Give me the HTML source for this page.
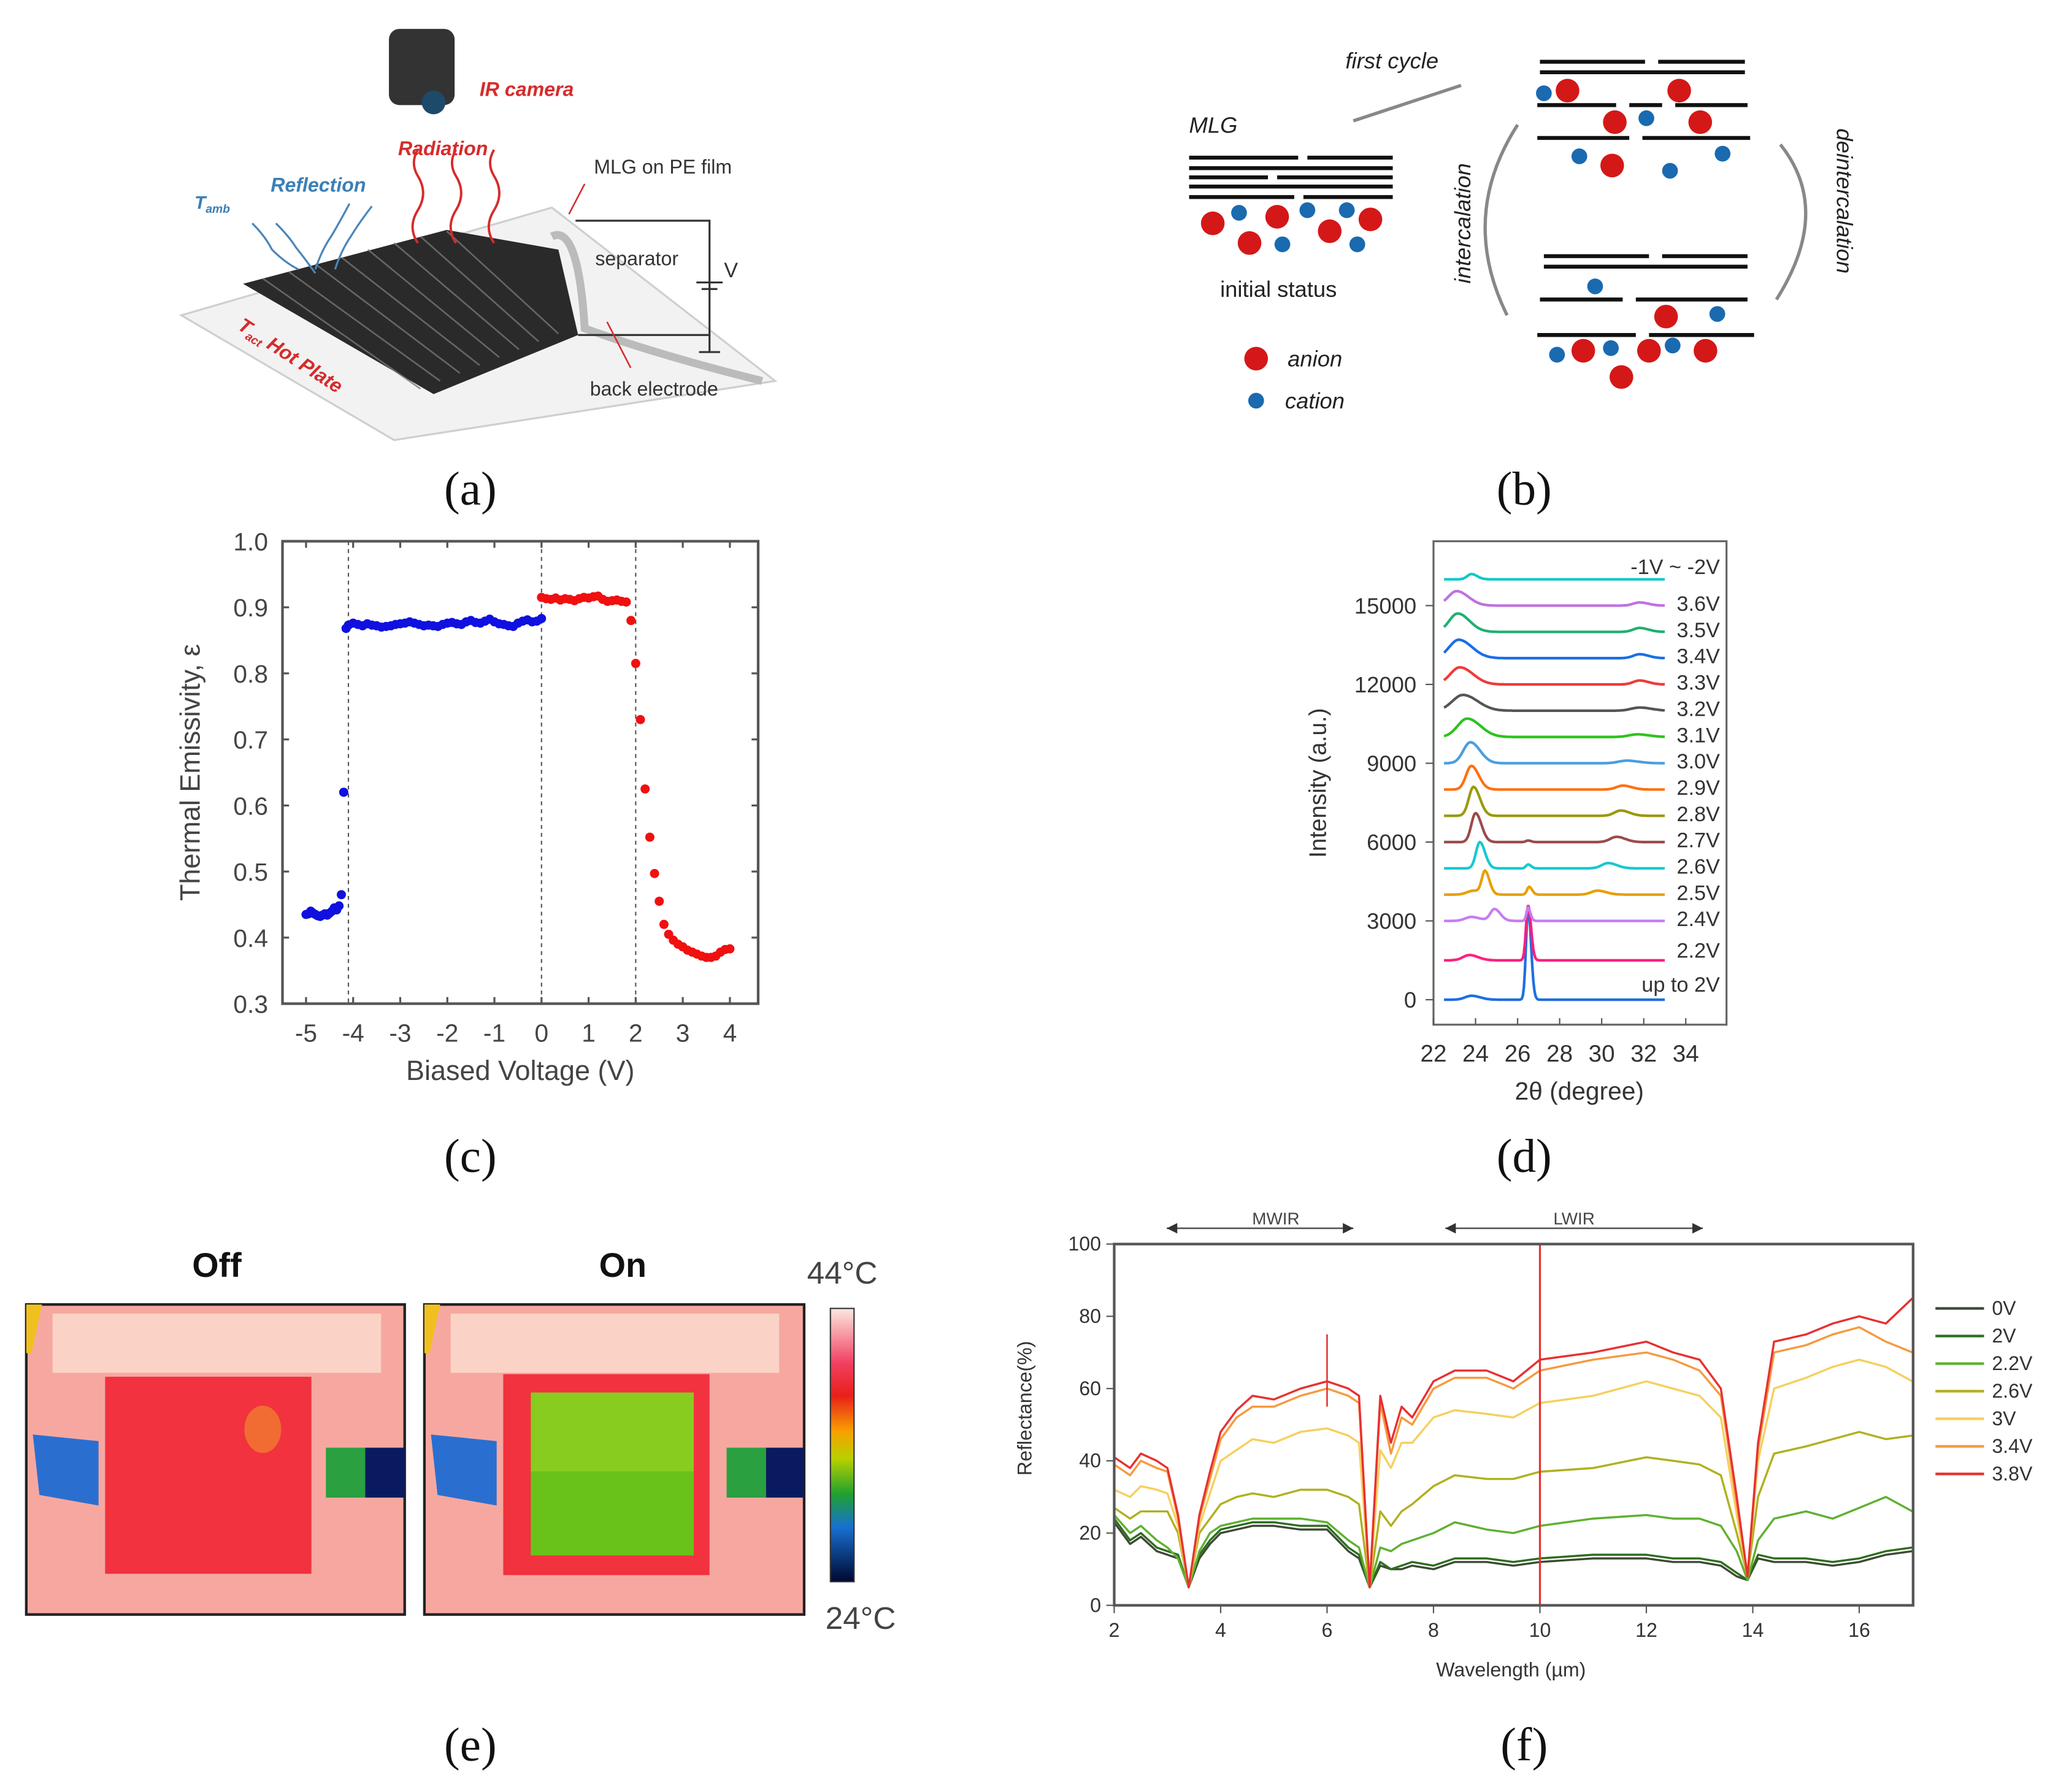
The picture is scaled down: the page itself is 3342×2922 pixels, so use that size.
<!DOCTYPE html>
<html><head><meta charset="utf-8">
<style>
html,body{margin:0;padding:0;background:#fff;}
svg{display:block;}
text{font-family:"Liberation Sans",sans-serif;}
.cap{font-family:"Liberation Serif",serif;font-size:36px;fill:#111;}
</style></head>
<body>
<svg id="fig" width="3342" height="2922" viewBox="0 0 1560.2 1364.1" preserveAspectRatio="none" xmlns="http://www.w3.org/2000/svg">
<rect width="1560.2" height="1364.1" fill="#fff"/>

<!-- ===== Panel (a) ===== -->
<g>
  <polygon points="138,240 420,158 590,290 300,335" fill="#f2f2f2" stroke="#cfcfcf" stroke-width="1.5"/>
  <polygon points="185,216 340,175 425,190 440,255 330,300" fill="#2a2a2a"/>
  <g stroke="#777" stroke-width="1.2" opacity="0.8">
    <line x1="200" y1="212" x2="320" y2="296"/><line x1="220" y1="207" x2="335" y2="290"/>
    <line x1="240" y1="201" x2="350" y2="284"/><line x1="260" y1="196" x2="365" y2="278"/>
    <line x1="280" y1="190" x2="380" y2="272"/><line x1="300" y1="185" x2="395" y2="266"/>
    <line x1="320" y1="180" x2="410" y2="260"/><line x1="340" y1="176" x2="425" y2="254"/>
  </g>
  <path d="M420,180 Q440,170 445,250 Q500,270 580,290" fill="none" stroke="#bbb" stroke-width="6"/>
  <rect x="296" y="22" width="50" height="58" rx="8" fill="#333"/>
  <circle cx="330" cy="78" r="9" fill="#1d4a6a"/>
  <text x="365" y="73" font-size="15" font-weight="bold" font-style="italic" fill="#d62b2b">IR camera</text>
  <text x="303" y="118" font-size="15" font-weight="bold" font-style="italic" fill="#d62b2b">Radiation</text>
  <text x="206" y="146" font-size="15" font-weight="bold" font-style="italic" fill="#3b7fb6">Reflection</text>
  <text x="148" y="159" font-size="14" font-weight="bold" font-style="italic" fill="#3b7fb6">T<tspan font-size="9" dy="3">amb</tspan></text>
  <text x="452" y="132" font-size="15" fill="#333">MLG on PE film</text>
  <text x="453" y="202" font-size="15" fill="#333">separator</text>
  <text x="551" y="211" font-size="16" fill="#333">V</text>
  <text x="449" y="301" font-size="15" fill="#333">back electrode</text>
  <text x="180" y="250" font-size="15" font-weight="bold" font-style="italic" fill="#d62b2b" transform="rotate(33 180 250)">T<tspan font-size="9" dy="3">act</tspan><tspan dy="-3"> Hot Plate</tspan></text>
  <g fill="none" stroke="#d62b2b" stroke-width="1.8">
    <path d="M318,185 q-8,-12 0,-25 q8,-13 0,-26 q-6,-10 0,-20"/>
    <path d="M347,185 q-8,-12 0,-25 q8,-13 0,-26 q-6,-10 0,-20"/>
    <path d="M376,185 q-8,-12 0,-25 q8,-13 0,-26 q-6,-10 0,-20"/>
  </g>
  <g fill="none" stroke="#4a86b8" stroke-width="1.5">
    <path d="M192,170 q10,10 15,20 q10,10 20,15"/>
    <path d="M210,170 q10,10 15,18 q8,10 15,20"/>
    <path d="M240,205 q5,-15 12,-25 q6,-10 14,-25"/>
    <path d="M255,205 q5,-15 12,-25 q6,-10 16,-23"/>
  </g>
  <g fill="none" stroke="#333" stroke-width="1.5">
    <polyline points="438,168 540,168 540,255 440,255"/>
    <line x1="530" y1="215" x2="550" y2="215"/><line x1="534" y1="220" x2="546" y2="220"/>
    <line x1="540" y1="255" x2="540" y2="268"/><line x1="532" y1="268" x2="548" y2="268"/>
  </g>
  <line x1="445" y1="140" x2="433" y2="163" stroke="#d62b2b" stroke-width="1.2"/>
  <line x1="480" y1="280" x2="462" y2="245" stroke="#d62b2b" stroke-width="1.2"/>
</g>
<text class="cap" x="358" y="384" text-anchor="middle">(a)</text>

<!-- ===== Panel (b) ===== -->
<g stroke="#111" stroke-width="3">
  <line x1="905" y1="120" x2="988" y2="120"/><line x1="995" y1="120" x2="1060" y2="120"/>
  <line x1="905" y1="128" x2="1060" y2="128"/>
  <line x1="905" y1="135" x2="965" y2="135"/><line x1="972" y1="135" x2="1060" y2="135"/>
  <line x1="905" y1="142" x2="1060" y2="142"/>
  <line x1="905" y1="150" x2="985" y2="150"/><line x1="992" y1="150" x2="1060" y2="150"/>
  <line x1="1172" y1="47" x2="1252" y2="47"/><line x1="1262" y1="47" x2="1328" y2="47"/>
  <line x1="1172" y1="55" x2="1328" y2="55"/>
  <line x1="1170" y1="80" x2="1230" y2="80"/><line x1="1240" y1="80" x2="1265" y2="80"/><line x1="1275" y1="80" x2="1330" y2="80"/>
  <line x1="1170" y1="105" x2="1240" y2="105"/><line x1="1250" y1="105" x2="1332" y2="105"/>
  <line x1="1175" y1="195" x2="1255" y2="195"/><line x1="1265" y1="195" x2="1330" y2="195"/>
  <line x1="1175" y1="203" x2="1330" y2="203"/>
  <line x1="1172" y1="228" x2="1235" y2="228"/><line x1="1245" y1="228" x2="1330" y2="228"/>
  <line x1="1170" y1="255" x2="1245" y2="255"/><line x1="1255" y1="255" x2="1335" y2="255"/>
</g>
<g>
  <g fill="#d41818">
    <circle cx="923" cy="170" r="9"/><circle cx="951" cy="185" r="9"/><circle cx="972" cy="165" r="9"/><circle cx="1012" cy="176" r="9"/><circle cx="1043" cy="167" r="9"/>
    <circle cx="1193" cy="69" r="9"/><circle cx="1278" cy="69" r="9"/><circle cx="1229" cy="93" r="9"/><circle cx="1294" cy="93" r="9"/><circle cx="1227" cy="126" r="9"/>
    <circle cx="1268" cy="241" r="9"/><circle cx="1205" cy="267" r="9"/><circle cx="1255" cy="267" r="9"/><circle cx="1298" cy="267" r="9"/><circle cx="1234" cy="287" r="9"/>
    <circle cx="956" cy="273" r="9"/>
  </g>
  <g fill="#1a6ab0">
    <circle cx="943" cy="162" r="6"/><circle cx="995" cy="160" r="6"/><circle cx="1025" cy="160" r="6"/><circle cx="976" cy="186" r="6"/><circle cx="1033" cy="186" r="6"/>
    <circle cx="1175" cy="71" r="6"/><circle cx="1253" cy="90" r="6"/><circle cx="1202" cy="119" r="6"/><circle cx="1271" cy="130" r="6"/><circle cx="1311" cy="117" r="6"/>
    <circle cx="1214" cy="218" r="6"/><circle cx="1307" cy="239" r="6"/><circle cx="1185" cy="270" r="6"/><circle cx="1226" cy="265" r="6"/><circle cx="1273" cy="263" r="6"/>
    <circle cx="956" cy="305" r="6"/>
  </g>
</g>
<g fill="none" stroke="#888" stroke-width="2.5">
  <line x1="1030" y1="92" x2="1112" y2="65"/>
  <path d="M1147,240 Q1110,165 1155,95"/>
  <path d="M1355,110 Q1395,160 1352,228"/>
</g>
<text x="1024" y="52" font-size="17" font-style="italic" fill="#222">first cycle</text>
<text x="905" y="101" font-size="17" font-style="italic" fill="#222">MLG</text>
<text x="973" y="226" font-size="17" text-anchor="middle" fill="#222">initial status</text>
<text x="980" y="279" font-size="17" font-style="italic" fill="#222">anion</text>
<text x="978" y="311" font-size="17" font-style="italic" fill="#222">cation</text>
<text x="1119" y="170" font-size="17" font-style="italic" fill="#222" text-anchor="middle" transform="rotate(-90 1119 170)">intercalation</text>
<text x="1398" y="153" font-size="17" font-style="italic" fill="#222" text-anchor="middle" transform="rotate(90 1398 153)">deintercalation</text>
<text class="cap" x="1160" y="384" text-anchor="middle">(b)</text>

<!-- ===== Panel (c) ===== -->
<g id="chartC"></g>
<text class="cap" x="358" y="892" text-anchor="middle">(c)</text>

<!-- ===== Panel (d) ===== -->
<g id="chartD"></g>
<text class="cap" x="1160" y="892" text-anchor="middle">(d)</text>

<!-- ===== Panel (e) ===== -->
<g>
  <text x="165" y="972" font-size="26" font-weight="bold" text-anchor="middle" fill="#111">Off</text>
  <text x="474" y="972" font-size="26" font-weight="bold" text-anchor="middle" fill="#111">On</text>
  <text x="641" y="977" font-size="24" text-anchor="middle" fill="#444">44°C</text>
  <text x="655" y="1240" font-size="24" text-anchor="middle" fill="#444">24°C</text>
  <g>
    <rect x="20" y="993" width="288" height="236" fill="#f6a8a0" stroke="#222" stroke-width="2"/>
    <rect x="40" y="1000" width="250" height="45" fill="#fbd3c6"/>
    <rect x="80" y="1048" width="157" height="150" fill="#f2323e"/>
    <ellipse cx="200" cy="1088" rx="14" ry="18" fill="#f07a30" opacity="0.8"/>
    <polygon points="25,1092 75,1097 75,1146 30,1138" fill="#2a6fd0"/>
    <rect x="248" y="1102" width="30" height="38" fill="#2aa040"/><rect x="278" y="1102" width="30" height="38" fill="#0a1a60"/>
    <polygon points="20,993 32,993 24,1030 20,1030" fill="#f0c020"/>
  </g>
  <g>
    <rect x="323" y="993" width="289" height="236" fill="#f6a8a0" stroke="#222" stroke-width="2"/>
    <rect x="343" y="1000" width="250" height="45" fill="#fbd3c6"/>
    <rect x="383" y="1046" width="157" height="153" fill="#f2323e"/>
    <rect x="404" y="1060" width="124" height="124" fill="#88cc20"/>
    <rect x="404" y="1120" width="124" height="64" fill="#5cbe18" opacity="0.7"/>
    <polygon points="328,1092 378,1097 378,1146 333,1138" fill="#2a6fd0"/>
    <rect x="553" y="1102" width="30" height="38" fill="#2aa040"/><rect x="583" y="1102" width="29" height="38" fill="#0a1a60"/>
    <polygon points="323,993 335,993 327,1030 323,1030" fill="#f0c020"/>
  </g>
  <defs>
    <linearGradient id="cbar" x1="0" y1="0" x2="0" y2="1">
      <stop offset="0" stop-color="#fde8e0"/><stop offset="0.2" stop-color="#f04060"/><stop offset="0.32" stop-color="#e8201a"/>
      <stop offset="0.45" stop-color="#f8a000"/><stop offset="0.55" stop-color="#b8d000"/><stop offset="0.68" stop-color="#20a030"/>
      <stop offset="0.8" stop-color="#1870d0"/><stop offset="1" stop-color="#000830"/>
    </linearGradient>
  </defs>
  <rect x="632" y="996" width="18" height="208" fill="url(#cbar)" stroke="#333" stroke-width="1"/>
</g>
<text class="cap" x="358" y="1340" text-anchor="middle">(e)</text>

<!-- ===== Panel (f) ===== -->
<g id="chartF"></g>
<text class="cap" x="1160" y="1340" text-anchor="middle">(f)</text>
</svg>

<script>
const NS="http://www.w3.org/2000/svg";
function mk(parent,tag,attrs,txt){const e=document.createElementNS(NS,tag);for(const k in attrs)e.setAttribute(k,attrs[k]);if(txt!==undefined)e.textContent=txt;parent.appendChild(e);return e;}

/* ---------- Chart C data ---------- */
const cBlueX=[-5,-4.95,-4.9,-4.85,-4.8,-4.75,-4.7,-4.65,-4.6,-4.55,-4.5,-4.45,-4.4,-4.35,-4.3,-4.25,-4.2,-4.15,-4.1,-4.0,-3.9,-3.8,-3.7,-3.6,-3.5,-3.4,-3.3,-3.2,-3.1,-3.0,-2.9,-2.8,-2.7,-2.6,-2.5,-2.4,-2.3,-2.2,-2.1,-2.0,-1.9,-1.8,-1.7,-1.6,-1.5,-1.4,-1.3,-1.2,-1.1,-1.0,-0.9,-0.8,-0.7,-0.6,-0.5,-0.4,-0.3,-0.2,-0.1,0];
const cBlueY=[0.435,0.436,0.44,0.437,0.435,0.433,0.432,0.434,0.436,0.434,0.437,0.44,0.445,0.442,0.448,0.465,0.62,0.868,0.873,0.876,0.874,0.872,0.875,0.873,0.872,0.870,0.871,0.872,0.874,0.875,0.876,0.878,0.876,0.874,0.872,0.873,0.872,0.871,0.874,0.876,0.877,0.875,0.874,0.878,0.880,0.877,0.876,0.879,0.882,0.878,0.875,0.874,0.872,0.871,0.876,0.879,0.881,0.878,0.879,0.883];
const cRedX=[0,0.1,0.2,0.3,0.4,0.5,0.6,0.7,0.8,0.9,1.0,1.1,1.2,1.3,1.4,1.5,1.6,1.7,1.8,1.9,2.0,2.1,2.2,2.3,2.4,2.5,2.6,2.7,2.8,2.9,3.0,3.1,3.2,3.3,3.4,3.5,3.6,3.7,3.8,3.9,4.0];
const cRedY=[0.915,0.913,0.912,0.914,0.911,0.913,0.912,0.910,0.913,0.915,0.914,0.916,0.917,0.912,0.909,0.910,0.911,0.909,0.908,0.88,0.815,0.73,0.625,0.552,0.497,0.455,0.42,0.405,0.396,0.39,0.386,0.381,0.378,0.375,0.372,0.370,0.370,0.372,0.378,0.382,0.383];
const cXTicks=[-5,-4,-3,-2,-1,0,1,2,3,4];
const cYTicks=[0.3,0.4,0.5,0.6,0.7,0.8,0.9,1.0];
const cDashed=[-4.1,0,2];

/* ---------- Chart D data ---------- */
const dLabels=["up to 2V","2.2V","2.4V","2.5V","2.6V","2.7V","2.8V","2.9V","3.0V","3.1V","3.2V","3.3V","3.4V","3.5V","3.6V","-1V ~ -2V"];
const dOffsets=[0,1500,3000,4000,5000,6000,7000,8000,9000,10000,11000,12000,13000,14000,15000,16000];
const dColors=["#1e6fe0","#ff1f7f","#c77df0","#e6a000","#17c8d0","#9b4b4b","#9a9a10","#ff7010","#4a9ee0","#2ec21e","#555555","#f03a3a","#1a6ee8","#20b070","#c070e0","#10c8c8"];
const dPeaks=[
 [[23.8,150,0.3],[26.5,3500,0.1]],
 [[23.7,200,0.3],[26.5,2100,0.1]],
 [[23.8,150,0.3],[24.9,450,0.2],[26.5,500,0.08]],
 [[23.9,150,0.3],[24.45,850,0.15],[26.55,300,0.1],[29.8,150,0.3]],
 [[24.2,1000,0.18],[26.5,150,0.1],[30.3,200,0.3]],
 [[24.0,1100,0.2],[26.5,60,0.1],[30.7,200,0.3]],
 [[23.9,1100,0.22],[30.9,200,0.3]],
 [[23.8,900,0.25],[31.0,150,0.3]],
 [[23.75,800,0.33],[31.2,100,0.4]],
 [[23.6,700,0.45],[31.7,100,0.4]],
 [[23.4,600,0.5],[31.8,120,0.4]],
 [[23.25,650,0.45],[31.8,150,0.3]],
 [[23.2,700,0.45],[31.8,150,0.3]],
 [[23.15,700,0.4],[31.8,150,0.3]],
 [[23.1,550,0.4],[31.8,120,0.3]],
 [[23.8,200,0.2]]];
const dXTicks=[22,24,26,28,30,32,34];
const dYTicks=[0,3000,6000,9000,12000,15000];

/* ---------- Chart F data ---------- */
const fWl=[2,2.3,2.5,2.8,3.0,3.2,3.4,3.6,3.8,4.0,4.3,4.6,5.0,5.5,6.0,6.4,6.6,6.8,7.0,7.2,7.4,7.6,8.0,8.4,9,9.5,10,11,12,12.5,13,13.4,13.7,13.9,14.1,14.4,15,15.5,16,16.5,17];
const fNames=["0V","2V","2.2V","2.6V","3V","3.4V","3.8V"];
const fColors=["#3d4a35","#2e6e1e","#5fb030","#b0b020","#f5d060","#f59a40","#e83030"];
const fS0=[23,17,19,15,14,13,5,13,17,20,21,22,22,21,21,15,13,5,11,10,10,11,10,12,12,11,12,13,13,12,12,11,8,7,13,12,12,11,12,14,15];
const fS1=[24,18,20,16,15,14,5,14,18,21,22,23,23,22,22,16,14,5,12,10,11,12,11,13,13,12,13,14,14,13,13,12,9,7,14,13,13,12,13,15,16];
const fS2=[25,20,22,18,16,13,5,15,20,22,23,24,24,24,23,18,16,5,16,15,17,18,20,23,21,20,22,24,25,24,24,22,15,7,18,24,26,24,27,30,26];
const fS3=[27,24,26,26,26,20,5,20,24,28,30,31,30,32,32,30,28,5,26,22,26,28,33,36,35,35,37,38,41,40,39,36,20,8,30,42,44,46,48,46,47];
const fS4=[32,30,33,32,31,22,5,22,31,40,43,46,45,48,49,47,45,5,43,38,45,45,52,54,53,52,56,58,62,60,58,52,25,8,40,60,63,66,68,66,62];
const fS5=[39,36,40,38,37,24,5,24,35,46,52,55,55,58,60,58,56,5,56,42,52,50,60,63,63,60,65,68,70,68,65,58,28,8,43,70,72,75,77,73,70];
const fS6=[41,38,42,40,38,25,5,25,37,48,54,58,57,60,62,60,58,5,58,45,55,52,62,65,65,62,68,70,73,70,68,60,30,8,45,73,75,78,80,78,85];
const fSeries=[fS0,fS1,fS2,fS3,fS4,fS5,fS6];
const fXTicks=[2,4,6,8,10,12,14,16];
const fYTicks=[0,20,40,60,80,100];

/* ---------- Draw C ---------- */
(function(){
 const g=document.getElementById('chartC');
 const L=215,R=577,T=412,B=764;
 const xs=v=>L+(v+5.5)*(R-L)/10.1;
 const ys=v=>B-(v-0.3)*(B-T)/0.7;
 cDashed.forEach(v=>{const l=mk(g,'line',{x1:xs(v),x2:xs(v),y1:T,y2:B,stroke:'#555','stroke-dasharray':'3,3','stroke-width':1});
  
  });
 const box=mk(g,'rect',{x:L,y:T,width:R-L,height:B-T,fill:'none',stroke:'#555','stroke-width':2});
 
 
 cXTicks.forEach(v=>{mk(g,'line',{x1:xs(v),x2:xs(v),y1:B,y2:B-5,stroke:'#555','stroke-width':1.5});
  mk(g,'line',{x1:xs(v),x2:xs(v),y1:T,y2:T+5,stroke:'#555','stroke-width':1.5});
  const t=mk(g,'text',{x:xs(v),y:B+29,'font-size':19,'text-anchor':'middle',fill:'#444'},String(v));
  
  });
 cYTicks.forEach(v=>{mk(g,'line',{x1:L,x2:L+5,y1:ys(v),y2:ys(v),stroke:'#555','stroke-width':1.5});
  mk(g,'line',{x1:R,x2:R-5,y1:ys(v),y2:ys(v),stroke:'#555','stroke-width':1.5});
  const t=mk(g,'text',{x:L-11,y:ys(v)+7,'font-size':19,'text-anchor':'end',fill:'#444'},v.toFixed(1));
  
  });
 cBlueX.forEach((x,i)=>{const c=mk(g,'circle',{cx:xs(x),cy:ys(cBlueY[i]),r:3.5,fill:'#1010e0'});
  
  });
 cRedX.forEach((x,i)=>{const c=mk(g,'circle',{cx:xs(x),cy:ys(cRedY[i]),r:3.5,fill:'#f01010'});
  
  });
 const xt=mk(g,'text',{x:396,y:822,'font-size':21,'text-anchor':'middle',fill:'#444'},'Biased Voltage (V)');
 
 
 const yt=mk(g,'text',{x:152,y:588,'font-size':21,'text-anchor':'middle',fill:'#444',transform:'rotate(-90 152 588)'},'Thermal Emissivity, ε');
 
 
})();

/* ---------- Draw D ---------- */
(function(){
 const g=document.getElementById('chartD');
 const L=1091,R=1314,T=412,B=780;
 const xs=v=>L+(v-22)*16;
 const ys=v=>761-v*0.02;
 const box=mk(g,'rect',{x:L,y:T,width:R-L,height:B-T,fill:'none',stroke:'#666','stroke-width':1.5});
 
 
 dXTicks.forEach(v=>{mk(g,'line',{x1:xs(v),x2:xs(v),y1:B,y2:B-5,stroke:'#555'});
  const t=mk(g,'text',{x:xs(v),y:B+28,'font-size':18,'text-anchor':'middle',fill:'#333'},String(v));
  
  });
 dYTicks.forEach(v=>{mk(g,'line',{x1:L,x2:L-6,y1:ys(v),y2:ys(v),stroke:'#555'});
  const t=mk(g,'text',{x:L-13,y:ys(v)+6,'font-size':17,'text-anchor':'end',fill:'#333'},String(v));
  
  });
 dOffsets.forEach((off,i)=>{
  let d='';
  for(let k=0;k<=210;k++){const x=22.5+k*0.05;let y=off;
   dPeaks[i].forEach(p=>{const w=p[2]*(x>p[0]?1.4:1);y+=p[1]*Math.exp(-Math.pow((x-p[0])/w,2)/2);});
   d+=(k?'L':'M')+xs(x).toFixed(1)+','+ys(y).toFixed(1);}
  const p=mk(g,'path',{d:d,fill:'none',stroke:dColors[i],'stroke-width':2});
  
  
  const ly=(i==0)?ys(off)-6:(i==15?ys(off)-4:ys(off)+(i==1?-2:4));
  const t=mk(g,'text',{x:1309,y:ly,'font-size':16,'text-anchor':'end',fill:'#333'},dLabels[i]);
  
  
 });
 const xt=mk(g,'text',{x:1202,y:837,'font-size':19,'text-anchor':'middle',fill:'#333'},'2θ (degree)');
 
 
 const yt=mk(g,'text',{x:1009,y:596,'font-size':18,'text-anchor':'middle',fill:'#333',transform:'rotate(-90 1009 596)'},'Intensity (a.u.)');
 
 
})();

/* ---------- Draw F ---------- */
(function(){
 const g=document.getElementById('chartF');
 const L=848,R=1456,T=947,B=1222;
 const xs=v=>L+(v-2)*40.5;
 const ys=v=>B-v*(B-T)/100;
 fSeries.forEach((s,i)=>{
  let d='';s.forEach((v,k)=>{d+=(k?'L':'M')+xs(fWl[k]).toFixed(1)+','+ys(v).toFixed(1);});
  const p=mk(g,'path',{d:d,fill:'none',stroke:fColors[i],'stroke-width':1.6,'stroke-linejoin':'round'});
  
  
 });
 mk(g,'line',{x1:xs(10),x2:xs(10),y1:ys(0),y2:ys(100),stroke:'#e83030','stroke-width':1.5});
 mk(g,'line',{x1:xs(6),x2:xs(6),y1:ys(55),y2:ys(75),stroke:'#e83030','stroke-width':1.2});
 const box=mk(g,'rect',{x:L,y:T,width:R-L,height:B-T,fill:'none',stroke:'#555','stroke-width':2});
 
 
 fXTicks.forEach(v=>{mk(g,'line',{x1:xs(v),x2:xs(v),y1:B,y2:B+6,stroke:'#555'});
  const t=mk(g,'text',{x:xs(v),y:B+24,'font-size':15,'text-anchor':'middle',fill:'#333'},String(v));
  
  });
 fYTicks.forEach(v=>{mk(g,'line',{x1:L,x2:L-6,y1:ys(v),y2:ys(v),stroke:'#555'});
  const t=mk(g,'text',{x:L-10,y:ys(v)+5,'font-size':15,'text-anchor':'end',fill:'#333'},String(v));
  
  });
 fNames.forEach((n,i)=>{const y=996+i*21;
  const l=mk(g,'line',{x1:1473,x2:1510,y1:y,y2:y,stroke:fColors[i],'stroke-width':2});
  
  
  const t=mk(g,'text',{x:1516,y:y+5,'font-size':15,fill:'#333'},n);
  
  });
 [[888,1030,'MWIR'],[1100,1296,'LWIR']].forEach(a=>{
  mk(g,'line',{x1:a[0],x2:a[1],y1:935,y2:935,stroke:'#555','stroke-width':1.2});
  mk(g,'path',{d:`M${a[0]},935 l8,-4 v8 z M${a[1]},935 l-8,-4 v8 z`,fill:'#333'});
  const t=mk(g,'text',{x:(a[0]+a[1])/2-(a[2]=='LWIR'?0:-12),y:932,'font-size':13,'text-anchor':'middle',fill:'#444'},a[2]);
  
  });
 const xt=mk(g,'text',{x:1150,y:1276,'font-size':15,'text-anchor':'middle',fill:'#333'},'Wavelength (µm)');
 
 
 const yt=mk(g,'text',{x:785,y:1072,'font-size':15,'text-anchor':'middle',fill:'#333',transform:'rotate(-90 785 1072)'},'Reflectance(%)');
 
 
})();
</script>
</body></html>
